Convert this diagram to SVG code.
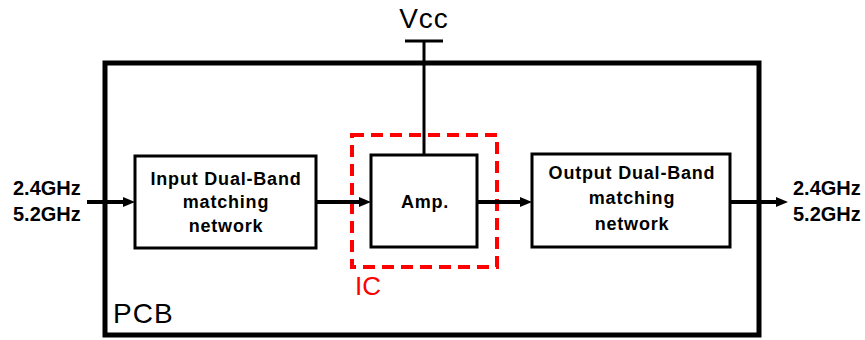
<svg xmlns="http://www.w3.org/2000/svg" width="865" height="340" viewBox="0 0 865 340">
<style>
  .box { fill: #ffffff; stroke: #000; stroke-width: 3; }
  .pcb { fill: none; stroke: #000; stroke-width: 5; }
  .ic { fill: none; stroke: #ff0000; stroke-width: 4; stroke-dasharray: 12 7; }
  .wire { fill: none; stroke: #000; stroke-width: 4; }
  .thin { fill: none; stroke: #000; stroke-width: 3; }
  .lbl { font-family: "Liberation Sans", Arial, sans-serif; font-weight: bold; font-size: 18px; letter-spacing: 0.8px; fill: #000; text-anchor: middle; }
  .freq { font-family: "Liberation Sans", Arial, sans-serif; font-weight: bold; font-size: 20px; fill: #000; }
  .big { font-family: "Liberation Sans", Arial, sans-serif; font-size: 27px; fill: #000; }
</style>
<defs>
  <marker id="arr" markerUnits="userSpaceOnUse" markerWidth="12" markerHeight="10" refX="4" refY="5" orient="auto">
    <path d="M0,0 L12,5 L0,10 z" fill="#000"/>
  </marker>
</defs>
<rect width="865" height="340" fill="#ffffff"/>

<g id="pcb">
  <rect class="pcb" x="105" y="63" width="654" height="272"/>
  <text class="big" x="113" y="323" style="font-size:28px; letter-spacing:1px">PCB</text>
</g>

<g id="vcc">
  <text class="big" x="424" y="28" text-anchor="middle" style="font-size:28px; letter-spacing:1px">Vcc</text>
  <line class="thin" x1="405" y1="41" x2="443" y2="41"/>
</g>

<g id="ic">
  <rect class="ic" x="352" y="135" width="145" height="132"/>
  <text class="big" x="355" y="295" style="fill:#ff0000; font-size:26px">IC</text>
</g>

<g id="input-label">
  <text class="freq" x="13" y="195">2.4GHz</text>
  <text class="freq" x="13" y="221">5.2GHz</text>
</g>

<g id="output-label">
  <text class="freq" x="793" y="195">2.4GHz</text>
  <text class="freq" x="793" y="221">5.2GHz</text>
</g>

<g id="connectors">
  <line class="thin" x1="424" y1="41" x2="424" y2="155"/>
  <line class="wire" x1="87" y1="202" x2="127" y2="202" marker-end="url(#arr)"/>
  <line class="wire" x1="316" y1="202" x2="363" y2="202" marker-end="url(#arr)"/>
  <line class="wire" x1="477" y1="202" x2="524" y2="202" marker-end="url(#arr)"/>
  <line class="wire" x1="730" y1="202" x2="780" y2="202" marker-end="url(#arr)"/>
</g>

<g id="input-match">
  <rect class="box" x="135" y="156" width="181" height="92"/>
  <text class="lbl" x="226" y="185">Input Dual-Band</text>
  <text class="lbl" x="226" y="208">matching</text>
  <text class="lbl" x="226" y="232">network</text>
</g>

<g id="amp">
  <rect class="box" x="371" y="155" width="106" height="92"/>
  <text class="lbl" x="425" y="208">Amp.</text>
</g>

<g id="output-match">
  <rect class="box" x="532" y="154" width="198" height="93"/>
  <text class="lbl" x="632" y="179">Output Dual-Band</text>
  <text class="lbl" x="632" y="204">matching</text>
  <text class="lbl" x="632" y="230">network</text>
</g>
</svg>
